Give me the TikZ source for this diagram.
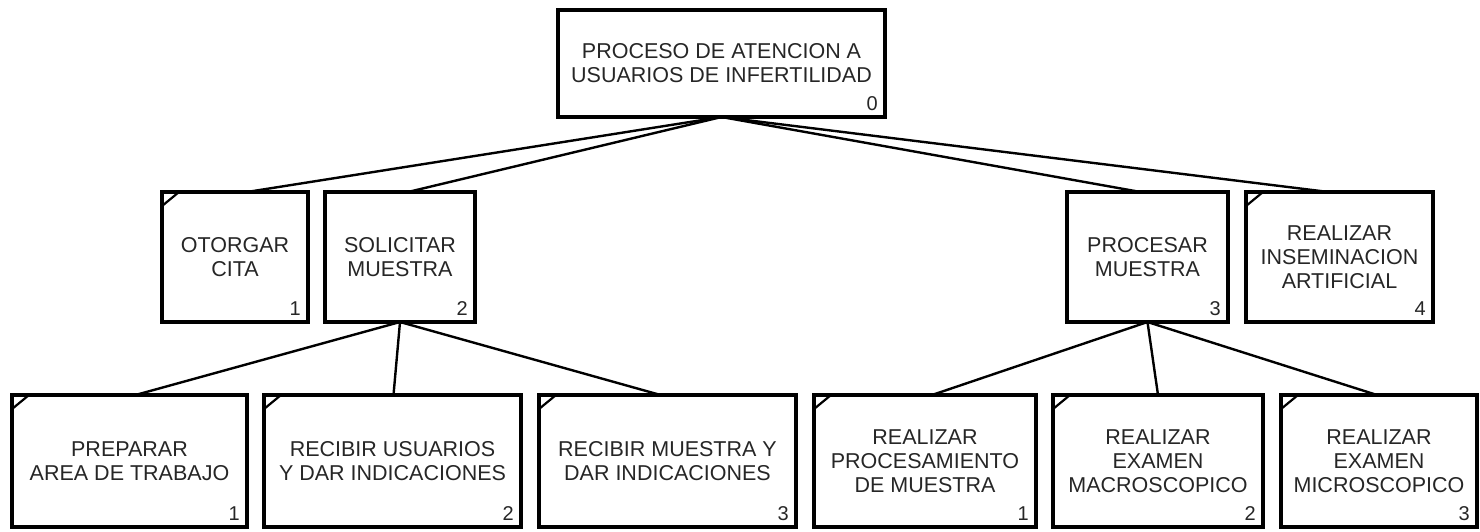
\documentclass[tikz,border=0pt]{standalone}
\usepackage{fontspec}
\setmainfont{Liberation Sans}
\begin{document}
\begin{tikzpicture}[x=1pt,y=-1pt,
 box/.style={draw, line width=3.2pt, inner sep=0pt, outer sep=0pt, align=center,
   font=\fontsize{21.5}{24}\selectfont, text=black!85},
 leaf/.style={box, path picture={\draw[line width=2.2pt]
   ([yshift=-14pt]path picture bounding box.north west) --
   ([xshift=17pt]path picture bounding box.north west);}},
 num/.style={anchor=south east, inner sep=0pt, text=black!85, font=\fontsize{20}{20}\selectfont},
 edge/.style={line width=2.4pt}]
\useasboundingbox (0,0) rectangle (1480,532);

% root
\node[box, minimum width=327pt, minimum height=107pt] (n0) at (721.5,63.5)
  {PROCESO DE ATENCION A\\USUARIOS DE INFERTILIDAD};
\node[num] (n0num) at (878,111) {0};

% level 1
\node[leaf, minimum width=146pt, minimum height=130pt] (n1) at (235,257) {OTORGAR\\CITA};
\node[num] (n1num) at (301,316) {1};
\node[box, minimum width=150pt, minimum height=130pt] (n2) at (400,257) {SOLICITAR\\MUESTRA};
\node[num] (n2num) at (468,316) {2};
\node[box, minimum width=161pt, minimum height=130pt] (n3) at (1147.5,257) {PROCESAR\\MUESTRA};
\node[num] (n3num) at (1221,316) {3};
\node[leaf, minimum width=187pt, minimum height=130pt] (n4) at (1339.5,257) {REALIZAR\\INSEMINACION\\ARTIFICIAL};
\node[num] (n4num) at (1426,316) {4};

% level 2
\node[leaf, minimum width=235pt, minimum height=132pt] (n21) at (129.5,461) {PREPARAR\\AREA DE TRABAJO};
\node[num] (n21num) at (240,521) {1};
\node[leaf, minimum width=257pt, minimum height=132pt] (n22) at (392.5,461) {RECIBIR USUARIOS\\Y DAR INDICACIONES};
\node[num] (n22num) at (514,521) {2};
\node[leaf, minimum width=257pt, minimum height=132pt] (n23) at (667.5,461) {RECIBIR MUESTRA Y\\DAR INDICACIONES};
\node[num] (n23num) at (789,521) {3};
\node[leaf, minimum width=222pt, minimum height=132pt] (n31) at (925,461) {REALIZAR\\PROCESAMIENTO\\DE MUESTRA};
\node[num] (n31num) at (1029,521) {1};
\node[leaf, minimum width=210pt, minimum height=132pt] (n32) at (1158,461) {REALIZAR\\EXAMEN\\MACROSCOPICO};
\node[num] (n32num) at (1256,521) {2};
\node[leaf, minimum width=196pt, minimum height=132pt] (n33) at (1379,461) {REALIZAR\\EXAMEN\\MICROSCOPICO};
\node[num] (n33num) at (1470,521) {3};

% connectors
\draw[edge] (n0.south) -- ([xshift=12pt]n1.north);
\draw[edge] (n0.south) -- ([xshift=8pt]n2.north);
\draw[edge] (n0.south) -- ([xshift=-7pt]n3.north);
\draw[edge] (n0.south) -- ([xshift=-11pt]n4.north);
\draw[edge] (n2.south) -- ([xshift=6pt]n21.north);
\draw[edge] (n2.south) -- ([xshift=1pt]n22.north);
\draw[edge] (n2.south) -- ([xshift=-7pt]n23.north);
\draw[edge] (n3.south) -- ([xshift=7pt]n31.north);
\draw[edge] (n3.south) -- (n32.north);
\draw[edge] (n3.south) -- ([xshift=-2pt]n33.north);
\end{tikzpicture}
\end{document}
